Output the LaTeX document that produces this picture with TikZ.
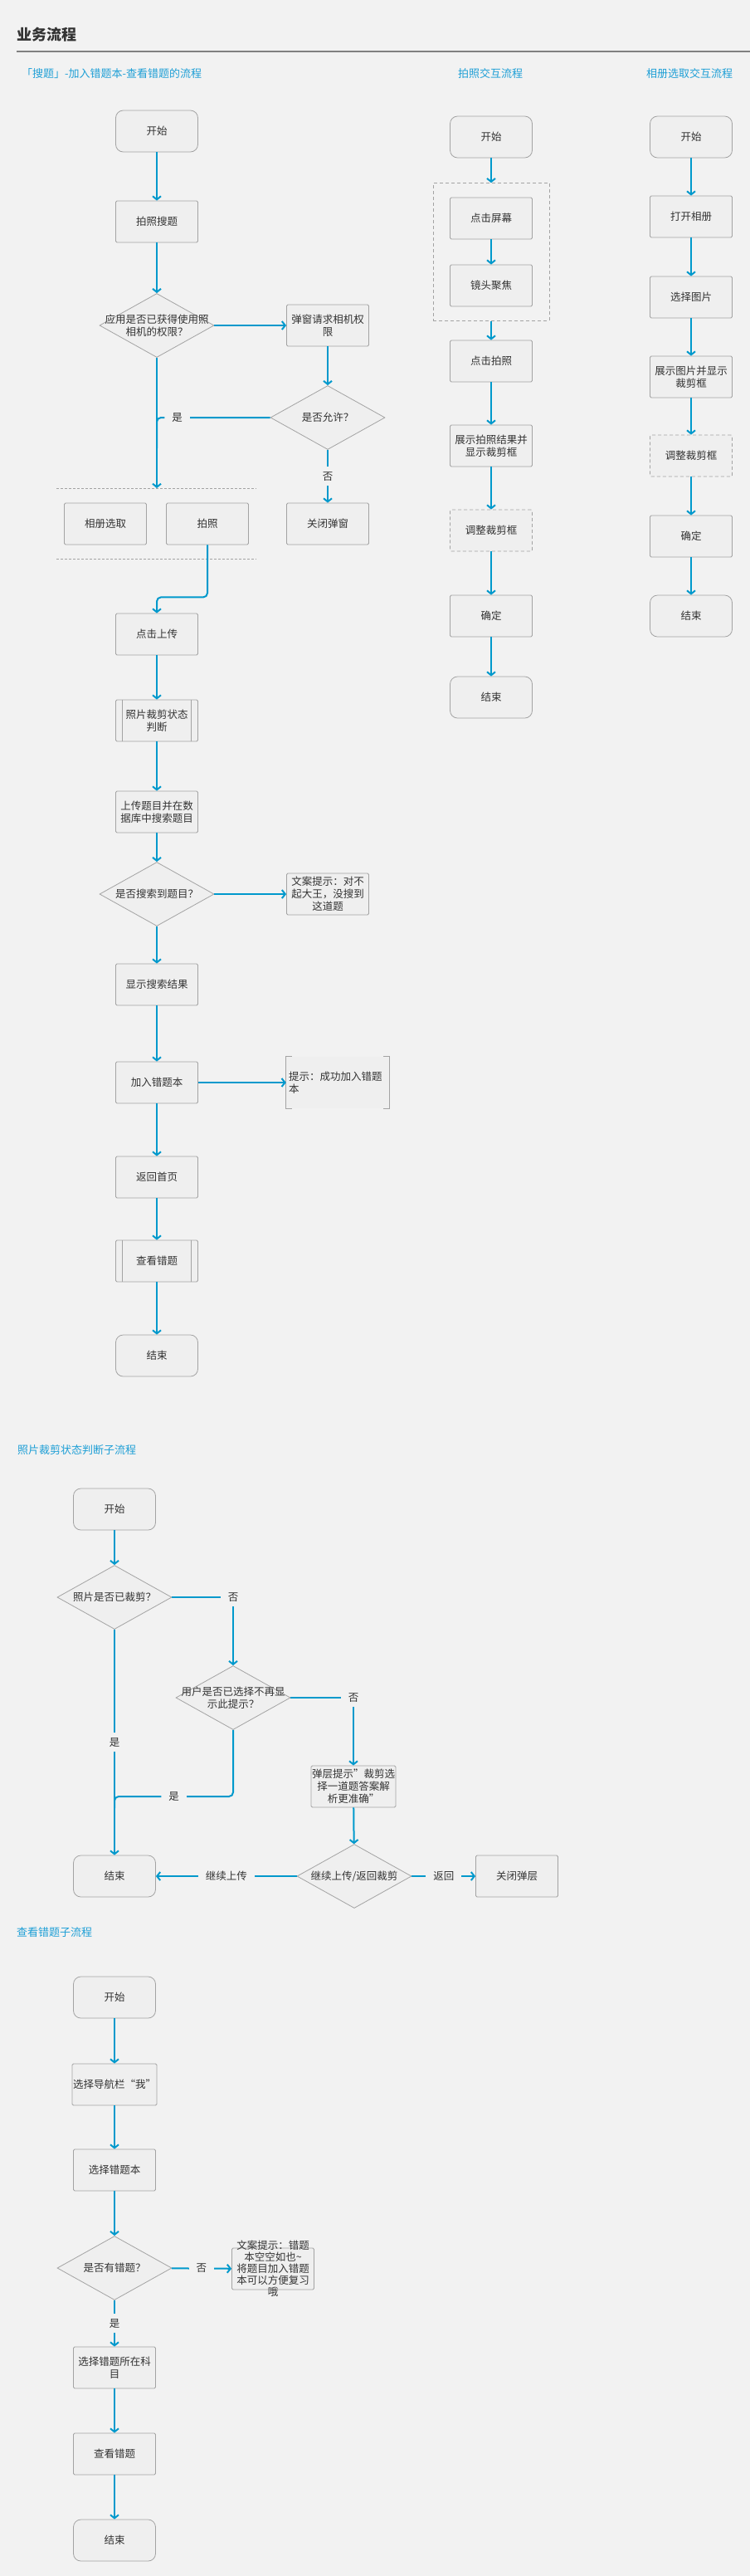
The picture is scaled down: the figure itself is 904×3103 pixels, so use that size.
\documentclass[tikz,border=0pt]{standalone}
\usepackage{fontspec}
\setmainfont{Noto Sans CJK SC}
\usepackage{tikz}
\usetikzlibrary{arrows.meta,shapes.geometric,positioning,fit}
\definecolor{bgcol}{HTML}{F2F2F2}
\definecolor{boxfill}{HTML}{EFEFEF}
\definecolor{boxline}{HTML}{A3A3A3}
\definecolor{flowblue}{HTML}{0099CC}
\definecolor{headblue}{HTML}{1E9FD6}
\definecolor{txt}{HTML}{333333}
\newcommand{\boxfont}{\fontsize{12.5}{15}\selectfont}
\tikzset{>={Straight Barb[length=4pt,width=10pt]}}
\tikzset{process/.style={rectangle,fill=boxfill,draw=boxline,line width=0.8pt,text=txt,minimum width=99pt,minimum height=50pt,inner sep=1pt,rounded corners=1.5pt,align=center,font=\boxfont}}
\tikzset{terminal/.style={process,rounded corners=9pt}}
\tikzset{dashedbox/.style={process,dash pattern=on 4pt off 3pt}}
\tikzset{subproc/.style={process,path picture={\draw[boxline,line width=0.8pt] ([xshift=8pt]path picture bounding box.north west) -- ([xshift=8pt]path picture bounding box.south west); \draw[boxline,line width=0.8pt] ([xshift=-8pt]path picture bounding box.north east) -- ([xshift=-8pt]path picture bounding box.south east);}}}
\tikzset{decision/.style={diamond,fill=boxfill,draw=boxline,line width=0.8pt,minimum width=138pt,minimum height=77pt,inner sep=0pt}}
\tikzset{dtext/.style={align=center,text=txt,font=\boxfont,inner sep=0pt}}
\tikzset{note/.style={rectangle,fill=boxfill,text=txt,minimum height=62pt,text width=118pt,inner sep=3pt,align=left,font=\boxfont}}
\tikzset{flow/.style={->,draw=flowblue,line width=2pt}}
\tikzset{edgelabel/.style={fill=bgcol,text=txt,font=\boxfont,inner xsep=9pt,inner ysep=6pt}}
\tikzset{heading/.style={text=headblue,font=\fontsize{13}{15}\selectfont,anchor=west,inner sep=0pt}}
\tikzset{sepline/.style={draw=boxline,dash pattern=on 3pt off 2pt,line width=0.8pt}}

\begin{document}
\begin{tikzpicture}[x=1pt,y=-1pt]
    \fill[bgcol] (0,0) rectangle (904,3103);
    \useasboundingbox (0,0) rectangle (904,3103);

    % title and headings
    \node[anchor=west,inner sep=0pt,text=txt,font=\fontsize{18}{20}\selectfont\bfseries] (title) at (20,42) {业务流程};
    \draw[draw=gray,line width=1.2pt] (20,62) -- (904,62);
    \node[heading] (mainhead) at (26,89) {「搜题」-加入错题本-查看错题的流程};
    \node[heading,anchor=center] (shothead) at (591,89) {拍照交互流程};
    \node[heading,anchor=center] (albumhead) at (831,89) {相册选取交互流程};
    \node[heading] (crophead) at (21,1747) {照片裁剪状态判断子流程};
    \node[heading] (viewhead) at (20,2328) {查看错题子流程};

    % main flow
    \node[terminal] (start)    at (189,158)  {开始};
    \node[process]  (shoot)    at (189,267)  {拍照搜题};
    \node[decision] (ask)      at (189,392)  {};
    \node[dtext]    (asktxt)   at (ask)      {应用是否已获得使用照\\相机的权限？};
    \node[process]  (popup)    at (395,392)  {弹窗请求相机权\\限};
    \node[decision] (allow)    at (395,503)  {};
    \node[dtext]    (allowtxt) at (allow)    {是否允许？};
    \node[process]  (closepop) at (395,631)  {关闭弹窗};
    \node[process]  (album)    at (127,631)  {相册选取};
    \node[process]  (photo)    at (250,631)  {拍照};
    \coordinate (septop) at (189,588);
    \draw[sepline] (68,588) -- (309,588);
    \draw[sepline] (68,673) -- (309,673);
    \node[process]  (upload)   at (189,764)  {点击上传};
    \node[subproc]  (cropchk)  at (189,868)  {照片裁剪状态\\判断};
    \node[process]  (search)   at (189,978)  {上传题目并在数\\据库中搜索题目};
    \node[decision] (found)    at (189,1077) {};
    \node[dtext]    (foundtxt) at (found)    {是否搜索到题目？};
    \node[process]  (sorry)    at (395,1077) {文案提示：对不\\起大王，没搜到\\这道题};
    \node[process]  (result)   at (189,1186) {显示搜索结果};
    \node[process]  (addbook)  at (189,1304) {加入错题本};
    \node[note]     (addtip)   at (407,1304) {提示：成功加入错题\\本};
    \draw[boxline,line width=0.8pt] ([xshift=7pt]addtip.north west) -- (addtip.north west) -- (addtip.south west) -- ([xshift=7pt]addtip.south west);
    \draw[boxline,line width=0.8pt] ([xshift=-7pt]addtip.north east) -- (addtip.north east) -- (addtip.south east) -- ([xshift=-7pt]addtip.south east);
    \node[process]  (home)     at (189,1418) {返回首页};
    \node[subproc]  (viewerr)  at (189,1519) {查看错题};
    \node[terminal] (finish)   at (189,1633) {结束};

    \draw[flow] (start) -- (shoot);
    \draw[flow] (shoot) -- (ask);
    \draw[flow] (ask) -- (popup);
    \draw[flow] (popup) -- (allow);
    \draw[flow] (ask) -- (septop);
    \draw[flow,-,rounded corners=5pt] (allow.west) -| (189,540) node[pos=0.41,edgelabel] (yes1) {是};
    \draw[flow] (allow) -- (closepop) node[midway,edgelabel] (no1) {否};
    \draw[flow,rounded corners=5pt] (photo.south) -- ++(0,63) -| (upload.north);
    \draw[flow] (upload) -- (cropchk);
    \draw[flow] (cropchk) -- (search);
    \draw[flow] (search) -- (found);
    \draw[flow] (found) -- (sorry);
    \draw[flow] (found) -- (result);
    \draw[flow] (result) -- (addbook);
    \draw[flow] (addbook) -- (addtip);
    \draw[flow] (addbook) -- (home);
    \draw[flow] (home) -- (viewerr);
    \draw[flow] (viewerr) -- (finish);

    % shooting flow
    \node[terminal]  (pstart)  at (592,165) {开始};
    \node[process]   (ptap)    at (592,263) {点击屏幕};
    \node[process]   (pfocus)  at (592,344) {镜头聚焦};
    \node[draw=boxline,line width=0.8pt,dash pattern=on 4pt off 3pt,fit=(ptap)(pfocus),inner xsep=20pt,inner ysep=17pt] (pgroup) {};
    \node[process]   (pshot)   at (592,435) {点击拍照};
    \node[process]   (pshow)   at (592,537) {展示拍照结果并\\显示裁剪框};
    \node[dashedbox] (padjust) at (592,639) {调整裁剪框};
    \node[process]   (pok)     at (592,742) {确定};
    \node[terminal]  (pend)    at (592,840) {结束};

    \draw[flow] (pstart) -- (pgroup);
    \draw[flow] (ptap) -- (pfocus);
    \draw[flow] (pgroup) -- (pshot);
    \draw[flow] (pshot) -- (pshow);
    \draw[flow] (pshow) -- (padjust);
    \draw[flow] (padjust) -- (pok);
    \draw[flow] (pok) -- (pend);

    % album flow
    \node[terminal]  (astart)  at (833,165) {开始};
    \node[process]   (aopen)   at (833,261) {打开相册};
    \node[process]   (apick)   at (833,358) {选择图片};
    \node[process]   (ashow)   at (833,454) {展示图片并显示\\裁剪框};
    \node[dashedbox] (aadjust) at (833,549) {调整裁剪框};
    \node[process]   (aok)     at (833,646) {确定};
    \node[terminal]  (aend)    at (833,742) {结束};

    \draw[flow] (astart) -- (aopen);
    \draw[flow] (aopen) -- (apick);
    \draw[flow] (apick) -- (ashow);
    \draw[flow] (ashow) -- (aadjust);
    \draw[flow] (aadjust) -- (aok);
    \draw[flow] (aok) -- (aend);

    % crop state sub-flow
    \node[terminal] (cstart)   at (138,1818) {开始};
    \node[decision] (ccut)     at (138,1924) {};
    \node[dtext]    (ccuttxt)  at (ccut)     {照片是否已裁剪？};
    \node[decision] (cskip)    at (281,2045) {};
    \node[dtext]    (cskiptxt) at (cskip)    {用户是否已选择不再显\\示此提示？};
    \node[process]  (ctip)     at (426,2152) {弹层提示"裁剪选\\择一道题答案解\\析更准确"};
    \node[decision] (cnext)    at (427,2260) {};
    \node[dtext]    (cnexttxt) at (cnext)    {继续上传/返回裁剪};
    \node[terminal] (cend)     at (138,2260) {结束};
    \node[process]  (cclose)   at (623,2260) {关闭弹层};
    \coordinate (cjoin) at (138,2164);

    \draw[flow] (cstart) -- (ccut);
    \draw[flow] (ccut.east) -| (cskip.north) node[pos=0.5,edgelabel] (cno1) {否};
    \draw[flow] (cskip.east) -| (ctip.north) node[pos=0.5,edgelabel] (cno2) {否};
    \draw[flow] (ccut) -- (cend) node[midway,edgelabel] (cyes1) {是};
    \draw[flow,-,rounded corners=5pt] (cskip.south) |- (cjoin) node[pos=0.75,edgelabel] (cyes2) {是} -- ++(0,14);
    \draw[flow] (ctip) -- (cnext);
    \draw[flow] (cnext) -- (cend) node[midway,edgelabel] (cgo) {继续上传};
    \draw[flow] (cnext) -- (cclose) node[midway,edgelabel] (cback) {返回};

    % view wrong questions sub-flow
    \node[terminal] (vstart)   at (138,2406) {开始};
    \node[process]  (vtab)     at (138,2511) {选择导航栏“我”};
    \node[process]  (vbook)    at (138,2614) {选择错题本};
    \node[decision] (vdecide)  at (138,2732) {};
    \node[dtext]    (vdecidetxt) at (vdecide) {是否有错题？};
    \node[process]  (vnote)    at (329,2733) {};
    \node[dtext,font=\fontsize{12.5}{14}\selectfont] (vnotetxt) at (vnote) {文案提示：错题\\本空空如也\textasciitilde\\将题目加入错题\\本可以方便复习\\哦};
    \node[process]  (vsubject) at (138,2852) {选择错题所在科\\目};
    \node[process]  (vview)    at (138,2956) {查看错题};
    \node[terminal] (vend)     at (138,3060) {结束};

    \draw[flow] (vstart) -- (vtab);
    \draw[flow] (vtab) -- (vbook);
    \draw[flow] (vbook) -- (vdecide);
    \draw[flow] (vdecide) -- (vnote) node[midway,edgelabel] (vno) {否};
    \draw[flow] (vdecide) -- (vsubject) node[midway,edgelabel] (vyes) {是};
    \draw[flow] (vsubject) -- (vview);
    \draw[flow] (vview) -- (vend);
\end{tikzpicture}
\end{document}
